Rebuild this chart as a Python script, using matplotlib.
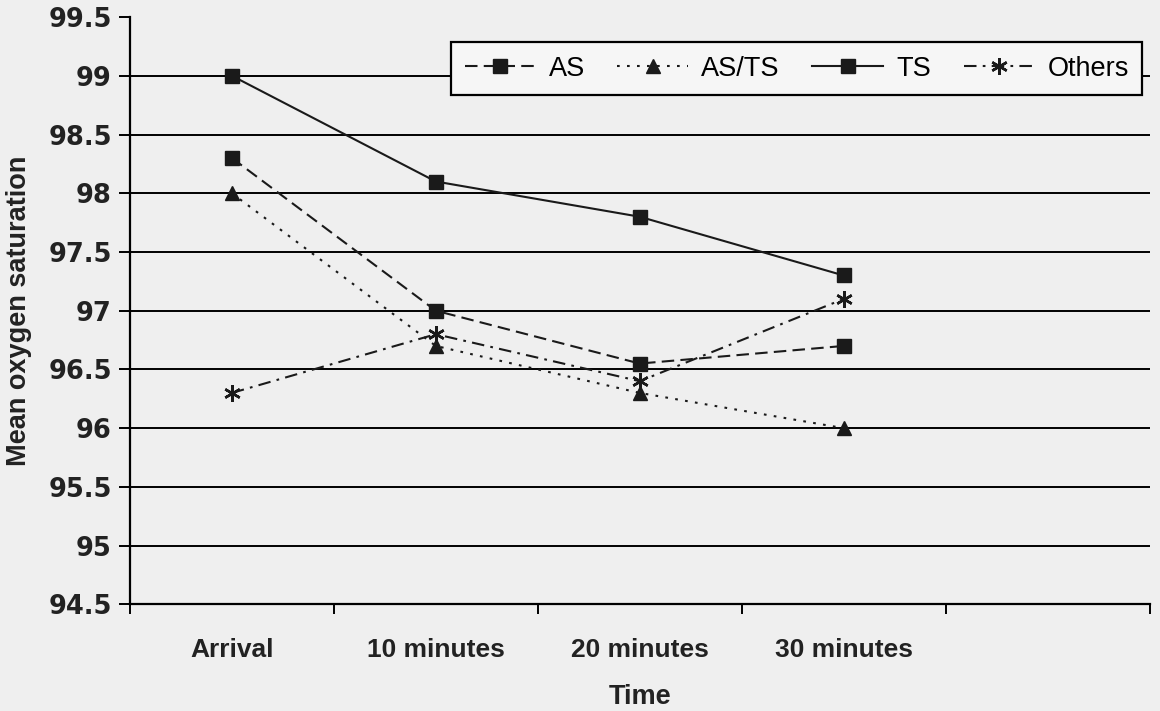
import matplotlib
matplotlib.use("Agg")
import matplotlib.pyplot as plt
import numpy as np

# Data
time_labels = ["Arrival", "10 minutes", "20 minutes", "30 minutes"]
as_values = [98.3, 97.0, 96.55, 96.7]
as_ts_values = [98.0, 96.7, 96.3, 96.0]
ts_values = [99.0, 98.1, 97.8, 97.3]
others_values = [96.3, 96.8, 96.4, 97.1]
y_ticks = [94.5, 95, 95.5, 96, 96.5, 97, 97.5, 98, 98.5, 99, 99.5]
n_slots = 5  # the category axis has one empty slot at the right

bg = "#efefef"
ink = "#1a1a1a"
fig = plt.figure(figsize=(11.6, 7.11), dpi=100, facecolor=bg)
ax = fig.add_axes([0.112, 0.150, 0.879, 0.826])
ax.set_facecolor(bg)

x = np.arange(len(time_labels))

# horizontal grid lines (none at the top value)
for yv in y_ticks[1:-1]:
    ax.axhline(yv, color="black", lw=1.4, zorder=1)

ax.plot(x, as_values, color=ink, lw=1.5, ls=(0, (6, 3)),
        marker="s", markersize=9.5, label="AS", zorder=3)
ax.plot(x, as_ts_values, color=ink, lw=1.5, ls=(0, (1.3, 3.5)),
        marker="^", markersize=9.5, label="AS/TS", zorder=3)
ax.plot(x, ts_values, color=ink, lw=1.5, ls="-",
        marker="s", markersize=9.5, label="TS", zorder=3)
ax.plot(x, others_values, color=ink, lw=1.5, ls=(0, (6, 3, 1.3, 3)),
        marker=(6, 2, 0), markersize=12, markeredgewidth=1.8,
        label="Others", zorder=3)

ax.set_xlim(-0.5, n_slots - 0.5)
ax.set_ylim(y_ticks[0], y_ticks[-1])
ax.set_yticks(y_ticks)
ax.set_yticklabels([f"{v:g}" for v in y_ticks],
                   fontfamily="DejaVu Sans", fontweight="bold", fontsize=18.5,
                   color="#222222")
ax.set_xticks(x)
ax.set_xticklabels(time_labels, fontfamily="Liberation Sans",
                   fontweight="bold", fontsize=19, color="#222222")
ax.set_xticks(np.arange(n_slots + 1) - 0.5, minor=True)
ax.tick_params(axis="x", which="major", length=0, pad=24)
ax.tick_params(axis="x", which="minor", length=7, width=1.4, direction="out")
ax.tick_params(axis="y", length=8, width=1.4, direction="out", pad=5)

for side in ["top", "right"]:
    ax.spines[side].set_visible(False)
for side in ["left", "bottom"]:
    ax.spines[side].set_linewidth(1.6)
    ax.spines[side].set_color("black")

ax.set_ylabel("Mean oxygen saturation", fontfamily="Liberation Sans",
              fontweight="bold", fontsize=19.5, color="#222222", labelpad=12)
ax.set_xlabel("Time", fontfamily="Liberation Sans", fontweight="bold",
              fontsize=19.5, color="#222222", labelpad=16)

leg = ax.legend(loc="upper right", ncol=4, frameon=True, fancybox=False,
                edgecolor="black", facecolor="#f6f6f6", framealpha=1,
                prop={"family": "Liberation Sans", "size": 19.5},
                handlelength=2.6, handletextpad=0.5, columnspacing=1.2,
                borderpad=0.5, borderaxespad=0,
                bbox_to_anchor=(0.993, 0.957))
leg.get_frame().set_linewidth(1.6)
leg.set_zorder(5)

fig.savefig("out.png", dpi=100, facecolor=bg)
